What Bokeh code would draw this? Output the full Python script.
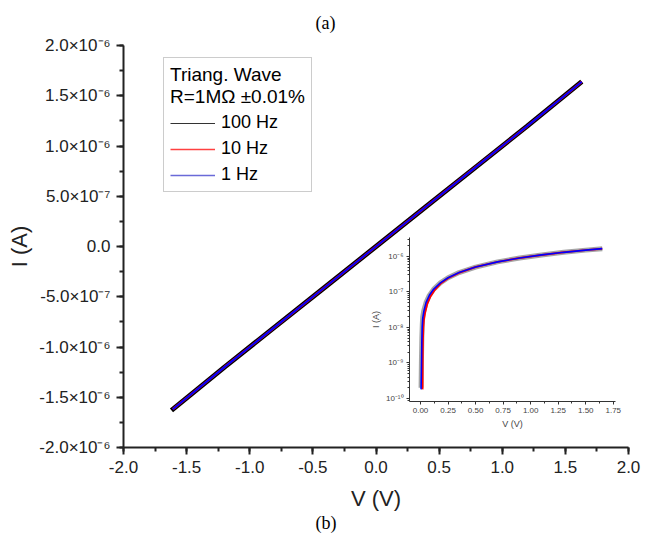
from bokeh.plotting import figure
from bokeh.models import (Legend, LegendItem, Title, SingleIntervalTicker,
                          CustomJSTickFormatter, Range1d, LogTicker)
from bokeh.layouts import column
from bokeh.embed import file_html
from bokeh.resources import INLINE

# ---------------- data ----------------
V_100Hz = [-1.62, -1.2, -0.8, -0.4, 0.0, 0.4, 0.8, 1.2, 1.63]
I_100Hz = [-1.63e-6, -1.2e-6, -0.8e-6, -0.4e-6, 0.0, 0.4e-6, 0.8e-6, 1.2e-6, 1.64e-6]
V_10Hz = [-1.61, -1.2, -0.8, -0.4, 0.0, 0.4, 0.8, 1.2, 1.63]
I_10Hz = [-1.62e-6, -1.2e-6, -0.8e-6, -0.4e-6, 0.0, 0.4e-6, 0.8e-6, 1.2e-6, 1.64e-6]
V_1Hz = [-1.61, -1.2, -0.8, -0.4, 0.0, 0.4, 0.8, 1.2, 1.63]
I_1Hz = [-1.62e-6, -1.2e-6, -0.8e-6, -0.4e-6, 0.0, 0.4e-6, 0.8e-6, 1.2e-6, 1.64e-6]

# inset (log |I| vs V, positive branch)
Vin_100Hz = [0.005, 0.008, 0.012, 0.016, 0.02, 0.03, 0.05, 0.08, 0.12, 0.18, 0.25, 0.35, 0.5,
             0.7, 0.9, 1.1, 1.3, 1.5, 1.65]
Iin_100Hz = [2e-10, 1e-9, 5e-9, 1.2e-8, 2e-8, 3e-8, 5e-8, 8e-8, 1.2e-7, 1.8e-7, 2.5e-7, 3.5e-7,
             5e-7, 7e-7, 9e-7, 1.1e-6, 1.3e-6, 1.5e-6, 1.65e-6]
Vin_10Hz = [0.018, 0.019, 0.02, 0.022, 0.025, 0.03, 0.04, 0.06, 0.09, 0.13, 0.18, 0.25, 0.35,
            0.5, 0.7, 0.9, 1.1, 1.3, 1.5, 1.65]
Iin_10Hz = [1.8e-10, 8e-10, 2e-9, 5e-9, 1e-8, 1.6e-8, 2.5e-8, 4.5e-8, 7.5e-8, 1.15e-7, 1.7e-7,
            2.45e-7, 3.45e-7, 5e-7, 7e-7, 9e-7, 1.1e-6, 1.3e-6, 1.5e-6, 1.65e-6]
Vin_1Hz = [0.005, 0.008, 0.010, 0.012, 0.015, 0.02, 0.03, 0.05, 0.08, 0.12, 0.18, 0.25, 0.35,
           0.5, 0.7, 0.9, 1.1, 1.3, 1.5, 1.65]
Iin_1Hz = [1.8e-10, 6e-10, 1.5e-9, 4e-9, 1e-8, 1.8e-8, 2.8e-8, 5e-8, 8e-8, 1.2e-7, 1.8e-7,
           2.5e-7, 3.5e-7, 5e-7, 7e-7, 9e-7, 1.1e-6, 1.3e-6, 1.5e-6, 1.65e-6]

series_labels = ["100 Hz", "10 Hz", "1 Hz"]
legend_title = "Triang. Wave\nR=1MΩ ±0.01%"

FONT = "Liberation Sans"

# ---------------- main figure ----------------
p = figure(width=653, height=538, output_backend="svg", toolbar_location=None,
           x_range=Range1d(-2.0, 2.0), y_range=Range1d(-2.0e-6, 2.0e-6),
           min_border_left=123, min_border_right=25, min_border_top=45, min_border_bottom=91)
p.outline_line_color = None
p.xgrid.visible = False
p.ygrid.visible = False
p.background_fill_color = "white"
p.border_fill_color = "white"

p.line(V_100Hz, I_100Hz, line_color="black", line_width=5)
p.line(V_10Hz, I_10Hz, line_color="red", line_width=2.5)
p.line(V_1Hz, I_1Hz, line_color="blue", line_width=2)

# legend renderers (thin sample lines, drawn outside the visible range)
lr1 = p.line([-10, -9], [-10, -9], line_color="#333333", line_width=1.2)
lr2 = p.line([-10, -9], [-10, -9], line_color="#ff4040", line_width=1.5)
lr3 = p.line([-10, -9], [-10, -9], line_color="#6a6ad8", line_width=1.6)
legend = Legend(items=[LegendItem(label=series_labels[0], renderers=[lr1]),
                       LegendItem(label=series_labels[1], renderers=[lr2]),
                       LegendItem(label=series_labels[2], renderers=[lr3])],
                location=(40, 255), title=legend_title,
                title_text_font=FONT, title_text_font_size="19px", title_text_font_style="normal",
                title_text_color="black", title_standoff=4, title_text_line_height=1.75,
                label_text_font=FONT, label_text_font_size="18px", label_text_color="black",
                glyph_width=45, glyph_height=20, label_standoff=6, spacing=5,
                padding=6, margin=0, border_line_color="#999999", border_line_width=1,
                background_fill_alpha=1)
p.add_layout(legend, "center")

for ax in (p.xaxis[0], p.yaxis[0]):
    ax.axis_line_width = 2
    ax.axis_line_color = "#222222"
    ax.major_tick_line_width = 2
    ax.minor_tick_line_width = 2
    ax.major_tick_line_color = "#222222"
    ax.minor_tick_line_color = "#222222"
    ax.major_tick_out = 7
    ax.major_tick_in = 0
    ax.minor_tick_out = 4
    ax.minor_tick_in = 0
    ax.major_label_text_font = FONT
    ax.major_label_text_font_size = "17px"
    ax.major_label_text_color = "#222222"
    ax.axis_label_text_font = FONT
    ax.axis_label_text_font_size = "22px"
    ax.axis_label_text_font_style = "normal"
    ax.axis_label_text_color = "#222222"

p.xaxis.ticker = SingleIntervalTicker(interval=0.5, num_minor_ticks=2)
p.yaxis.ticker = SingleIntervalTicker(interval=5e-7, num_minor_ticks=2)
p.xaxis.formatter = CustomJSTickFormatter(code="return tick.toFixed(1);")
p.yaxis.formatter = CustomJSTickFormatter(code="""
if (Math.abs(tick) < 1e-15) return "0.0";
const e = Math.floor(Math.log10(Math.abs(tick)) + 1e-9);
const m = tick / Math.pow(10, e);
const sup = {"-":"\u207B","0":"\u2070","1":"\u00B9","2":"\u00B2","3":"\u00B3","4":"\u2074",
             "5":"\u2075","6":"\u2076","7":"\u2077","8":"\u2078","9":"\u2079"};
return m.toFixed(1) + "\u00D710" + String(e).split("").map(c => sup[c]).join("");
""")
p.xaxis.axis_label = "V (V)"
p.yaxis.axis_label = "I (A)"
p.xaxis.major_label_standoff = 6
p.xaxis.axis_label_standoff = 10
p.yaxis.major_label_standoff = 6
p.yaxis.axis_label_standoff = 4

# panel labels
p.title = Title(text="(a)", align="left", offset=192, standoff=22, vertical_align="top",
                text_font="Liberation Serif",
                text_font_size="18px", text_font_style="normal", text_color="black")
p.add_layout(Title(text="(b)", align="left", offset=192, standoff=-6, text_font="Liberation Serif",
                   text_font_size="18px", text_font_style="normal", text_color="black"), "below")

# ---------------- inset ----------------
q = figure(frame_width=206, frame_height=164, output_backend="svg", toolbar_location=None,
           x_range=Range1d(-0.1, 1.77), y_range=Range1d(8.2e-11, 3.4e-6), y_axis_type="log",
           min_border_left=123, min_border_right=25, min_border_top=12, min_border_bottom=30)
q.outline_line_color = None
q.xgrid.visible = False
q.ygrid.visible = False
q.background_fill_alpha = 0
q.border_fill_alpha = 0

q.line(Vin_100Hz, Iin_100Hz, line_color="black", line_alpha=0.35, line_width=5)
q.line(Vin_10Hz, Iin_10Hz, line_color="red", line_width=2)
q.line(Vin_1Hz, Iin_1Hz, line_color="blue", line_width=1.6)

for ax in (q.xaxis[0], q.yaxis[0]):
    ax.axis_line_width = 1
    ax.axis_line_color = "#333333"
    ax.major_tick_line_color = "#333333"
    ax.minor_tick_line_color = "#333333"
    ax.major_tick_out = 3
    ax.major_tick_in = 0
    ax.minor_tick_out = 2
    ax.minor_tick_in = 0
    ax.major_label_text_font = FONT
    ax.major_label_text_font_size = "8px"
    ax.major_label_text_color = "#444444"
    ax.axis_label_text_font = FONT
    ax.axis_label_text_font_size = "9px"
    ax.axis_label_text_font_style = "normal"
    ax.axis_label_text_color = "#444444"
    ax.major_label_standoff = 3
    ax.axis_label_standoff = 3

q.yaxis.axis_label_standoff = 2
q.xaxis.ticker = SingleIntervalTicker(interval=0.25, num_minor_ticks=2)
q.xaxis.formatter = CustomJSTickFormatter(code="return tick.toFixed(2);")
q.yaxis.ticker = LogTicker(desired_num_ticks=5, num_minor_ticks=10)
q.yaxis.formatter = CustomJSTickFormatter(code="""
const e = Math.round(Math.log10(tick));
const sup = {"-":"\u207B","0":"\u2070","1":"\u00B9","2":"\u00B2","3":"\u00B3","4":"\u2074",
             "5":"\u2075","6":"\u2076","7":"\u2077","8":"\u2078","9":"\u2079"};
return "10" + String(e).split("").map(c => sup[c]).join("");
""")
q.xaxis.axis_label = "V (V)"
q.yaxis.axis_label = "I (A)"
q.margin = (-313, 0, 0, 286)

layout = column(p, q, spacing=0)
layout.margin = 0
p.margin = 0

open("out.html", "w").write(file_html(layout, INLINE))
